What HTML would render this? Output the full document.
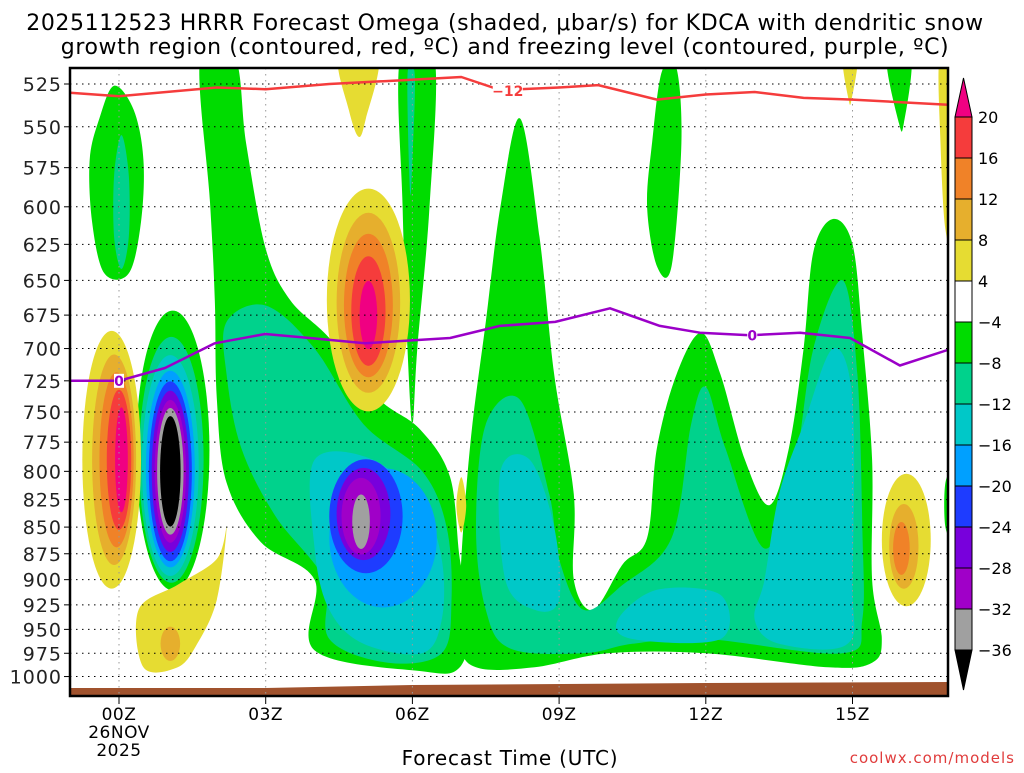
<!DOCTYPE html>
<html><head><meta charset="utf-8"><style>
html,body{margin:0;padding:0;background:#fff;}
svg text{font-family:"DejaVu Sans","Liberation Sans",sans-serif;}
</style></head><body>
<svg id="chart" width="1024" height="768" viewBox="0 0 1024 768" xmlns="http://www.w3.org/2000/svg">
<text x="505" y="30" font-size="22" text-anchor="middle" fill="#000" letter-spacing="0.6">2025112523 HRRR Forecast Omega (shaded, μbar/s) for KDCA with dendritic snow</text>
<text x="505" y="54" font-size="22" text-anchor="middle" fill="#000" letter-spacing="0.6">growth region (contoured, red, ºC) and freezing level (contoured, purple, ºC)</text>
<g id="fills"></g>
<g id="grid"></g>
<g id="lines"></g>
<g id="axes"></g>
<g id="cbar"></g>
<text x="510" y="765" font-size="20" text-anchor="middle" fill="#000" letter-spacing="0.8">Forecast Time (UTC)</text>
<text x="1015" y="763" font-size="15" text-anchor="end" fill="#e03c3c" letter-spacing="1">coolwx.com/models</text>
</svg>
<script>
const pLevels=[525,550,575,600,625,650,675,700,725,750,775,800,825,850,875,900,925,950,975,1000];
const tTicks=[0,3,6,9,12,15];
const tLabels=["00Z","03Z","06Z","09Z","12Z","15Z"];
const cbLevels=[20,16,12,8,4,-4,-8,-12,-16,-20,-24,-28,-32,-36];
const cbColors=["#f53c3c","#f08228","#e6af2d","#e6dc32","#ffffff","#00dc00","#00d28c","#00c8c8","#00a0ff","#1e3cff","#7800dc","#a000c8","#a0a0a0"];
const redT=[-1,0,2,3,4.3,5.7,7,7.8,9,9.8,11,12,13,14,15,16.95];
const redP=[530,532,527,528,525,523,521,528.5,527,525.6,534,531,529.6,533,534,537];
const purT=[-1,0,0.94,1.96,2.99,3.9,5.03,6.77,7.79,8.92,10.04,11.06,11.88,12.9,13.93,14.95,15.97,16.95];
const purP=[725,725,715,696,689,692,696,692,683,680,670,683,688,690,688,692,713,701];
const polys=[
 {l:-4,pts:[[-0.1,526],[0.3,540],[0.5,570],[0.45,610],[0.2,645],[-0.3,645],[-0.55,610],[-0.6,570],[-0.4,545]]},
 {l:-8,pts:[[0.05,555],[0.2,580],[0.2,620],[0.05,642],[-0.1,620],[-0.1,580]]},
 {l:-4,pts:[[1.66,510],[2.37,510],[2.6,560],[3.0,628],[3.5,664],[4.3,692],[5.3,739],[6.15,764],[6.77,805],[6.97,880],[7.2,935],[6.97,990],[6.15,994],[4.0,972],[4.0,900],[2.9,864],[2.2,810],[2.0,739],[1.96,664],[1.86,597]]},
 {l:-8,pts:[[2.2,680],[3.0,668],[4.0,700],[5.0,760],[6.2,800],[6.7,850],[6.8,920],[6.6,975],[5.5,985],[4.3,960],[4.2,900],[3.2,840],[2.5,780],[2.2,720]]},
 {l:-12,pts:[[4.0,790],[5.2,790],[6.2,830],[6.6,880],[6.6,940],[6.2,975],[5.0,965],[4.3,930],[4.0,870]]},
 {l:-4,pts:[[5.75,510],[6.45,510],[6.35,600],[6.1,700],[6.0,760],[5.9,700],[5.8,600]]},
 {l:-8,pts:[[5.9,520],[6.05,520],[6.0,570],[5.95,590]]},
 {l:-4,pts:[[8.2,545],[8.6,620],[8.9,720],[9.3,820],[9.3,900],[9.7,930],[10.3,885],[10.8,860],[11.0,780],[11.4,720],[11.9,688],[12.3,720],[12.8,790],[13.3,830],[13.7,780],[14.0,700],[14.2,630],[14.6,608],[15.0,625],[15.2,690],[15.4,790],[15.4,900],[15.6,960],[15.4,985],[14.5,990],[12,975],[10,975],[8.5,990],[7.3,990],[6.97,960],[7.0,880],[7.2,770],[7.5,680],[7.8,600]]},
 {l:-8,pts:[[7.5,760],[8.2,740],[8.8,820],[9.0,880],[9.5,930],[10.3,905],[11.3,860],[11.7,760],[12.0,730],[12.4,780],[13.2,870],[13.8,800],[14.2,700],[14.8,650],[15.1,720],[15.2,850],[15.2,940],[14.8,975],[12,960],[10.5,965],[9.5,975],[8,970],[7.5,930],[7.3,850]]},
 {l:-12,pts:[[7.8,800],[8.4,790],[8.9,850],[9.0,920],[8.5,930],[7.9,900]]},
 {l:-12,pts:[[13.2,900],[13.5,820],[14.0,760],[14.6,700],[15.0,740],[15.0,900],[14.9,965],[13.5,965],[13.0,940]]},
 {l:-12,pts:[[10.2,940],[11.0,910],[12.3,915],[12.3,960],[10.5,960]]},
 {l:-4,pts:[[10.9,560],[11.1,518],[11.4,516],[11.5,560],[11.3,640],[11.0,640],[10.8,600]]},
 {l:-4,pts:[[15.7,510],[16.2,510],[16.05,548],[15.95,548]]},
 {l:-4,pts:[[16.9,810],[17.1,800],[17.1,860],[16.9,850]]},
 {l:4,pts:[[4.5,510],[5.3,510],[5.05,545],[4.9,556],[4.7,540]]},
 {l:4,pts:[[14.8,510],[15.1,510],[14.98,534],[14.92,534]]},
 {l:4,pts:[[16.78,510],[17.1,510],[17.1,625],[16.9,615],[16.8,560]]},
 {l:4,pts:[[0.4,930],[1.2,905],[2.0,880],[2.2,850],[2.0,920],[1.6,965],[1.2,990],[0.5,990]]},
 {l:4,pts:[[6.9,830],[7.0,805],[7.1,830],[7.0,855]]}
];
const ells=[
 {l:-4,t:1.1,p:782,rt:0.75,rp:118},{l:-8,t:1.07,p:790,rt:0.66,rp:105},{l:-12,t:1.05,p:795,rt:0.58,rp:95},
 {l:-16,t:1.05,p:798,rt:0.5,rp:85},{l:-20,t:1.05,p:800,rt:0.44,rp:78},{l:-24,t:1.05,p:800,rt:0.38,rp:70},
 {l:-28,t:1.05,p:800,rt:0.32,rp:62},{l:-32,t:1.05,p:800,rt:0.27,rp:55},{l:-36,t:1.05,p:800,rt:0.21,rp:48},
 {l:-16,t:5.4,p:860,rt:1.1,rp:65},{l:-20,t:5.05,p:840,rt:0.75,rp:52},{l:-24,t:5.0,p:838,rt:0.55,rp:42},
 {l:-28,t:4.95,p:840,rt:0.4,rp:35},{l:-32,t:4.95,p:845,rt:0.18,rp:25},
 {l:4,t:5.1,p:664,rt:0.85,rp:80},{l:8,t:5.1,p:666,rt:0.65,rp:65},{l:12,t:5.1,p:668,rt:0.5,rp:52},{l:16,t:5.1,p:672,rt:0.35,rp:40},{l:20,t:5.1,p:675,rt:0.18,rp:25},
 {l:4,t:-0.15,p:790,rt:0.6,rp:110},{l:8,t:-0.1,p:790,rt:0.45,rp:90},{l:12,t:-0.05,p:790,rt:0.35,rp:75},{l:16,t:0,p:790,rt:0.25,rp:60},{l:20,t:0.05,p:790,rt:0.13,rp:45},
 {l:8,t:1.05,p:965,rt:0.2,rp:18},
 {l:4,t:16.1,p:862,rt:0.5,rp:62},{l:8,t:16.05,p:868,rt:0.3,rp:40},{l:12,t:16.0,p:870,rt:0.17,rp:25}
];
const NS="http://www.w3.org/2000/svg";
const X0=70,X1=948,Y0=68,Y1=696;
function x(t){return 119+48.9*t;}
function y(p){return 84+919.6*Math.log(p/525);}
const order=[-4,-8,-12,-16,-20,-24,-28,-32,-36,4,8,12,16,20];
const colorMap={"-4":"#00dc00","-8":"#00d28c","-12":"#00c8c8","-16":"#00a0ff","-20":"#1e3cff","-24":"#7800dc","-28":"#a000c8","-32":"#a0a0a0","-36":"#000000","4":"#e6dc32","8":"#e6af2d","12":"#f08228","16":"#f53c3c","20":"#f00082"};
function mk(tag,attrs,parent){const e=document.createElementNS(NS,tag);for(const k in attrs)e.setAttribute(k,attrs[k]);parent.appendChild(e);return e;}
function smooth(pts){const n=pts.length;let d="M"+pts[0][0]+","+pts[0][1];
 for(let i=0;i<n;i++){const p0=pts[(i-1+n)%n],p1=pts[i],p2=pts[(i+1)%n],p3=pts[(i+2)%n];
 const c1=[p1[0]+(p2[0]-p0[0])/6,p1[1]+(p2[1]-p0[1])/6],c2=[p2[0]-(p3[0]-p1[0])/6,p2[1]-(p3[1]-p1[1])/6];
 d+=" C"+c1[0].toFixed(1)+","+c1[1].toFixed(1)+" "+c2[0].toFixed(1)+","+c2[1].toFixed(1)+" "+p2[0].toFixed(1)+","+p2[1].toFixed(1);}
 return d+"Z";}
const defs=mk("defs",{},document.getElementById("chart"));
const cp=mk("clipPath",{id:"plotclip"},defs);mk("rect",{x:X0,y:Y0,width:X1-X0,height:Y1-Y0},cp);
const fills=document.getElementById("fills");fills.setAttribute("clip-path","url(#plotclip)");
const items=[];
polys.forEach((s,i)=>items.push({k:"p",s,i}));
ells.forEach((s,i)=>items.push({k:"e",s,i:i+1000}));
items.sort((a,b)=>(order.indexOf(a.s.l)-order.indexOf(b.s.l))||(a.i-b.i));
items.forEach(it=>{const s=it.s;let el;
 if(it.k==="p"){el=mk("path",{d:smooth(s.pts.map(q=>[x(q[0]),y(q[1])])),fill:colorMap[s.l]},fills);
  }
 else{const rx=x(s.t+s.rt)-x(s.t),ry=(y(s.p+s.rp)-y(s.p-s.rp))/2;
  el=mk("ellipse",{cx:x(s.t),cy:y(s.p),rx:rx,ry:ry,fill:colorMap[s.l]},fills);
  }
 });
const g=mk("polygon",{points:`${X0},688 ${x(3)},688 ${x(6)},685 ${x(12)},683 ${X1},682 ${X1},${Y1} ${X0},${Y1}`,fill:"#a0522d"},fills);


const grid=document.getElementById("grid");const axes=document.getElementById("axes");
pLevels.forEach(p=>{const yy=y(p);
 const l=mk("line",{x1:X0,x2:X1,y1:yy,y2:yy,stroke:"#000","stroke-width":1,"stroke-dasharray":"1.5,4.5"},grid);
 
 
 const tk=mk("line",{x1:X0-6,x2:X0,y1:yy,y2:yy,stroke:"#000"},axes);
 
 
 const tx=mk("text",{x:X0-8,y:yy+7,"font-size":19,"text-anchor":"end",fill:"#222","letter-spacing":1},axes);tx.textContent=p;
 
 });
tTicks.forEach((t,i)=>{const xx=x(t);
 const l=mk("line",{x1:xx,x2:xx,y1:Y0,y2:Y1,stroke:"#999","stroke-width":1,"stroke-dasharray":"1.5,4.5"},grid);
 
 
 const tk=mk("line",{x1:xx,x2:xx,y1:Y1,y2:Y1+8,stroke:"#000"},axes);
 
 
 const tx=mk("text",{x:xx,y:720,"font-size":17,"text-anchor":"middle",fill:"#000","letter-spacing":0.5},axes);tx.textContent=tLabels[i];
 
 });
[["26NOV",738],["2025",756]].forEach(a=>{const tx=mk("text",{x:x(0),y:a[1],"font-size":17,"text-anchor":"middle",fill:"#000","letter-spacing":0.5},axes);tx.textContent=a[0];
 
 });
const fr=mk("rect",{x:X0,y:Y0,width:X1-X0,height:Y1-Y0,fill:"none",stroke:"#000","stroke-width":2.5},axes);


const lines=document.getElementById("lines");lines.setAttribute("clip-path","url(#plotclip)");
function polyline(ts,ps,col){let d="";ts.forEach((t,i)=>{d+=(i?"L":"M")+x(t).toFixed(1)+","+y(ps[i]).toFixed(1);});
 return mk("path",{d,fill:"none",stroke:col,"stroke-width":2.5,"stroke-linejoin":"round"},lines);}
const rl=polyline(redT,redP,"#f53c3c");


const pl=polyline(purT,purP,"#9b00c8");


function lab(t,p,txt,col,name){const r=mk("rect",{x:x(t)-(txt.length*5),y:y(p)-7,width:txt.length*10,height:14,fill:"#fff"},lines);
 
 
 const tx=mk("text",{x:x(t),y:y(p)+5,"font-size":14,"font-weight":"bold","text-anchor":"middle",fill:col},lines);tx.textContent=txt;
 
 }
lab(7.95,529,"−12","#f53c3c","isotherm-label");
lab(0,725,"0","#9b00c8","freezing-label");
lab(12.95,690,"0","#9b00c8","freezing-label");
const cb=document.getElementById("cbar");const cx0=955,cx1=972,cyTop=117,cbh=41;
const tri=mk("polygon",{points:`${(cx0+cx1)/2},78 ${cx1},${cyTop} ${cx0},${cyTop}`,fill:"#f00082",stroke:"#000"},cb);


cbColors.forEach((c,i)=>{const r=mk("rect",{x:cx0,y:cyTop+i*cbh,width:cx1-cx0,height:cbh,fill:c,stroke:"#000"},cb);
 
 });
const yb=cyTop+cbColors.length*cbh;
const tri2=mk("polygon",{points:`${cx0},${yb} ${cx1},${yb} ${(cx0+cx1)/2},690`,fill:"#000",stroke:"#000"},cb);


cbLevels.forEach((v,i)=>{const tx=mk("text",{x:978,y:cyTop+i*cbh+6,"font-size":16,fill:"#000"},cb);tx.textContent=v<0?"−"+(-v):String(v);
 
 });
</script>
</body></html>
